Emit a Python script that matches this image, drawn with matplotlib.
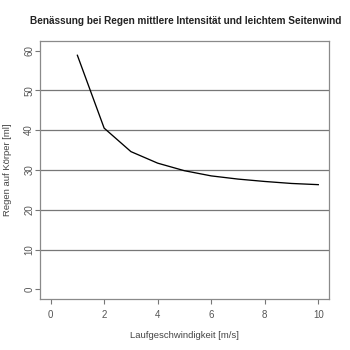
import matplotlib
matplotlib.use("Agg")
import matplotlib.pyplot as plt

# Laufgeschwindigkeit [m/s] vs. Regen auf Koerper [ml]
speed = [1, 2, 3, 4, 5, 6, 7, 8, 9, 10]
rain = [58.8, 40.5, 34.6, 31.7, 29.8, 28.5, 27.7, 27.1, 26.6, 26.3]
grid_levels = [10, 20, 30, 40, 50]
xticks = [0, 2, 4, 6, 8, 10]
yticks = [0, 10, 20, 30, 40, 50, 60]

plt.rcParams["font.family"] = ["Liberation Sans", "DejaVu Sans"]

fig = plt.figure(figsize=(3.5, 3.5), dpi=100)
ax = fig.add_axes([0.114, 0.146, 0.826, 0.737])

for g in grid_levels:
    ax.axhline(g, color="#777777", linewidth=0.9, zorder=1)

ax.plot(speed, rain, color="black", linewidth=0.95, zorder=3)

ax.set_xlim(-0.4, 10.4)
ax.set_ylim(-2.4, 62.4)
ax.set_xticks(xticks)
ax.set_yticks(yticks)
ax.set_yticklabels([str(v) for v in yticks], rotation=90, va="center")

for sp in ax.spines.values():
    sp.set_color("#8a8a8a")
    sp.set_linewidth(0.9)

ax.tick_params(axis="both", direction="out", length=3.6, width=0.8,
               color="#777777", labelcolor="#555555", labelsize=7)
ax.tick_params(axis="x", pad=4.5)
ax.tick_params(axis="y", pad=0.5)

ax.set_xlabel("Laufgeschwindigkeit [m/s]", fontsize=6.8, color="#444444")
ax.set_ylabel("Regen auf Körper [ml]", fontsize=6.8, color="#444444")
ax.xaxis.set_label_coords(0.5, -0.124)
ax.yaxis.set_label_coords(-0.098, 0.5)

fig.text(0.53, 0.94, "Benässung bei Regen mittlere Intensität und leichtem Seitenwind",
         ha="center", va="center", fontsize=7.2, fontweight="bold", color="#222222")

fig.savefig("out.png", dpi=100, facecolor="white")
